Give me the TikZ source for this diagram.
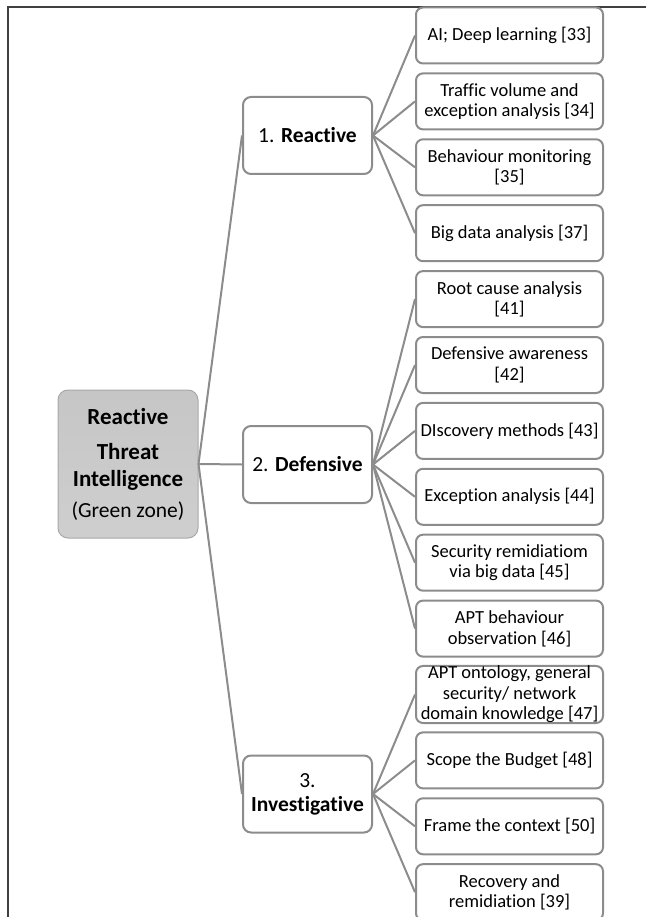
\documentclass[tikz,border=0pt]{standalone}
\usepackage{fontspec}
\setmainfont{Carlito}[Ligatures=NoCommon]
\begin{document}
\begin{tikzpicture}[x=1pt,y=-1pt,
  link/.style={draw=linegray,line width=2pt},
  leaf/.style={draw=linegray,line width=2pt,rounded corners=7pt,fill=white,
    minimum width=187pt,minimum height=56pt,inner sep=0pt,align=center,
    font=\fontsize{18.5}{20.5}\selectfont},
  branch/.style={draw=linegray,line width=2pt,rounded corners=8pt,fill=white,
    minimum width=129pt,minimum height=77pt,inner sep=0pt,align=center,
    font=\fontsize{21.5}{24}\selectfont},
  rootbox/.style={draw=rootedge,line width=1pt,rounded corners=10pt,
    top color=rootfill,bottom color=rootfill!85!white,
    minimum width=140pt,minimum height=148pt,inner sep=0pt,align=center,
    font=\fontsize{23}{27}\selectfont}]
\definecolor{linegray}{HTML}{8C8C8C}
\definecolor{rootedge}{HTML}{A8A8A8}
\definecolor{rootfill}{HTML}{C6C6C6}
\definecolor{framegray}{HTML}{404040}
\useasboundingbox (0,0) rectangle (646,917);

% page frame (top and left rules)
\draw[framegray,line width=1.2pt] (646,7) -- (8,7) -- (8,917);

% root
\node[rootbox] (root) at (128,464)
  {\textbf{Reactive}\\[8pt]\textbf{Threat}\\[0pt]\textbf{Intelligence}\\[4pt]{\fontsize{21.5}{26}\selectfont(Green zone)}};

% branches
\node[branch] (b1) at (307.5,135.5) {1. \textbf{Reactive}};
\node[branch] (b2) at (307.5,464.5) {2. \textbf{Defensive}};
\node[branch] (b3) at (307.5,794) {3.\\\textbf{Investigative}};

% leaves
\node[leaf] (l1)  at (509.5,35.5)  {AI; Deep learning [33]};
\node[leaf] (l2)  at (509.5,101.4) {Traffic volume and\\exception analysis [34]};
\node[leaf] (l3)  at (509.5,167.3) {Behaviour monitoring\\{}[35]};
\node[leaf] (l4)  at (509.5,233.2) {Big data analysis [37]};
\node[leaf] (l5)  at (509.5,299.1) {Root cause analysis\\{}[41]};
\node[leaf] (l6)  at (509.5,365.0) {Defensive awareness\\{}[42]};
\node[leaf] (l7)  at (509.5,430.9) {DIscovery methods [43]};
\node[leaf] (l8)  at (509.5,496.8) {Exception analysis [44]};
\node[leaf] (l9)  at (509.5,562.7) {Security remidiatiom\\via big data [45]};
\node[leaf] (l10) at (509.5,628.6) {APT behaviour\\observation [46]};
\node[leaf] (l11) at (509.5,694.5) {APT ontology, general\\security/ network\\domain knowledge [47]};
\node[leaf] (l12) at (509.5,760.4) {Scope the Budget [48]};
\node[leaf] (l13) at (509.5,826.3) {Frame the context [50]};
\node[leaf] (l14) at (509.5,892.2) {Recovery and\\remidiation [39]};

% connectors
\foreach \b in {b1,b2,b3}
  \draw[link] (root.east) -- (\b.west);
\foreach \l in {l1,l2,l3,l4}
  \draw[link] (b1.east) -- (\l.west);
\foreach \l in {l5,l6,l7,l8,l9,l10}
  \draw[link] (b2.east) -- (\l.west);
\foreach \l in {l11,l12,l13,l14}
  \draw[link] (b3.east) -- (\l.west);
\end{tikzpicture}
\end{document}
